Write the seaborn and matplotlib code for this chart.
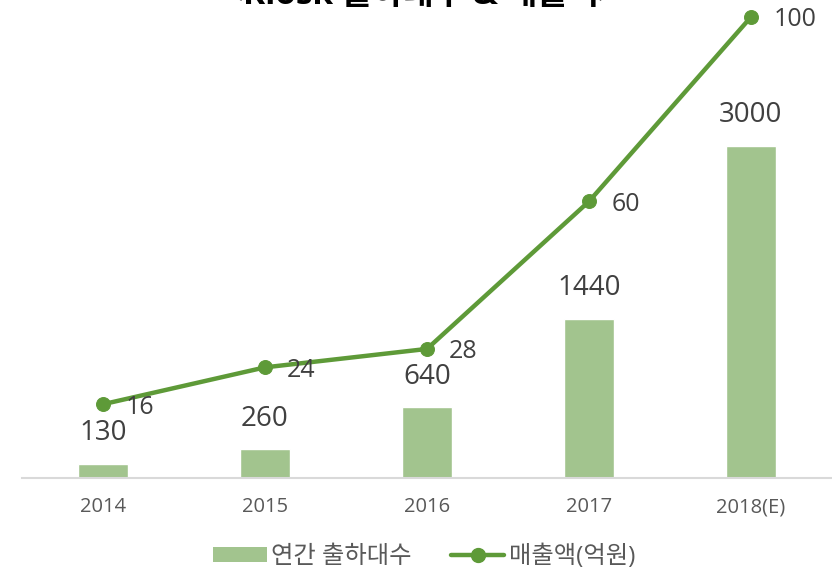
import numpy as np
import pandas as pd
import seaborn as sns
import matplotlib.pyplot as plt
from matplotlib.patches import Patch
from matplotlib.lines import Line2D

years = ['2014', '2015', '2016', '2017', '2018(E)']
shipments = [130, 260, 640, 1440, 3000]
sales = [16, 24, 28, 60, 100]

bar_color = '#A2C48E'
line_color = '#5E9A38'
text_color = '#404040'

sns.set_style('white')
plt.rcParams['font.family'] = ['Open Sans', 'Noto Sans CJK KR', 'DejaVu Sans']

df = pd.DataFrame({'year': years, 'shipments': shipments, 'sales': sales})

fig = plt.figure(figsize=(8.32, 5.77), dpi=100)
ax = fig.add_axes([22 / 832, 1 - 478 / 577, 810 / 832, 478 / 577])

sns.barplot(data=df, x='year', y='shipments', color=bar_color, width=0.31,
            saturation=1, ax=ax)
ax.set_xlim(-0.5, 4.5)
ax.set_ylim(0, 3000 * 478 / 332)
for i, v in enumerate(shipments):
    ax.annotate(str(v), (i, v), xytext=(0, 12), textcoords='offset points',
                ha='center', va='bottom', fontsize=20, color=text_color)

ax2 = ax.twinx()
sns.lineplot(data=df, x='year', y='sales', color=line_color, linewidth=3.2,
             marker='o', markersize=10, markeredgecolor=line_color, ax=ax2)
ax2.set_ylim(0, 100 * 478 / 461)
for i, v in enumerate(sales):
    ax2.annotate(str(v), (i, v), xytext=(16, -2), textcoords='offset points',
                 ha='left', va='center', fontsize=18, color=text_color)

for a in (ax, ax2):
    a.set_yticks([])
    a.set_ylabel('')
    a.set_xlabel('')
    for s in ['top', 'left', 'right']:
        a.spines[s].set_visible(False)
ax2.spines['bottom'].set_visible(False)
ax.spines['bottom'].set_color('#D9D9D9')
ax.spines['bottom'].set_linewidth(1.5)
ax.tick_params(axis='x', length=0, pad=14, labelsize=14.5, labelcolor='#595959')

fig.text(0.506, 1.008, '<Kiosk 출하대수 & 매출액>', ha='center', va='center',
         fontsize=24, fontweight='bold', color='black')

handles = [Patch(facecolor=bar_color, edgecolor='none'),
           Line2D([], [], color=line_color, linewidth=3.2, marker='o',
                  markersize=10)]
fig.legend(handles, ['연간 출하대수', '매출액(억원)'], loc='center',
           bbox_to_anchor=(0.51, 1 - 557 / 577), ncol=2, frameon=False,
           fontsize=17.5, labelcolor='#595959', handlelength=2.2,
           handletextpad=0.2, columnspacing=1.6, handleheight=0.55)

fig.savefig('out.png', dpi=100)
